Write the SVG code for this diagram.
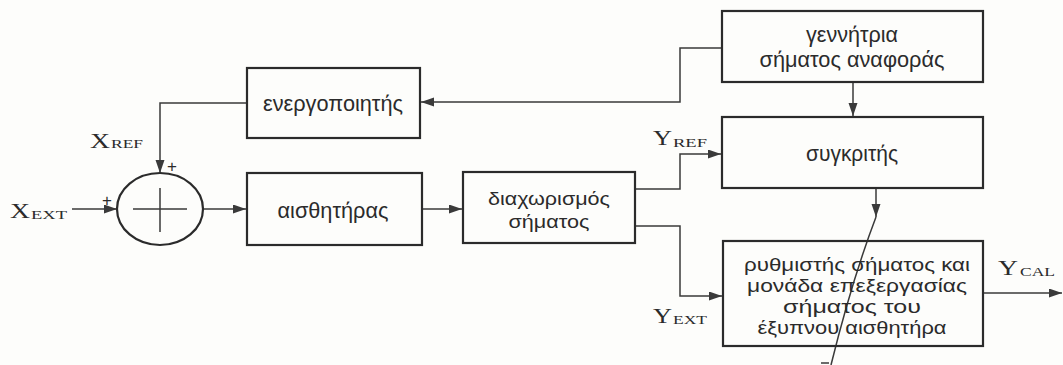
<svg xmlns="http://www.w3.org/2000/svg" width="1063" height="365" viewBox="0 0 1063 365">
<style>
.box{fill:none;stroke:#2b2b2b;stroke-width:2.2}
.ln{fill:none;stroke:#3a3a3a;stroke-width:1.5}
.t{font-family:"Liberation Sans",Arial,sans-serif;font-size:22px;fill:#2b2b2b;text-anchor:middle}
.t2{font-family:"Liberation Sans",Arial,sans-serif;font-size:19px;fill:#2b2b2b;text-anchor:middle}
.s{font-family:"Liberation Serif","Times New Roman",serif;font-size:21px;fill:#2b2b2b}
.sub{font-family:"Liberation Serif","Times New Roman",serif;font-size:12.5px;fill:#2b2b2b}
.p{font-family:"Liberation Sans",Arial,sans-serif;font-size:17px;fill:#2b2b2b;text-anchor:middle}
</style>
<defs>
<marker id="ah" markerUnits="userSpaceOnUse" markerWidth="14" markerHeight="10" refX="13" refY="4.5" orient="auto">
<path d="M0,0 L13,4.5 L0,9 z" fill="#3a3a3a"/>
</marker>
</defs>
<rect width="1063" height="365" fill="#fdfdfb"/>

<g id="connectors">
<path class="ln" d="M722,48 H680 V102 H421" marker-end="url(#ah)"/>
<path class="ln" d="M247,103 H160 V173" marker-end="url(#ah)"/>
<path class="ln" d="M72,209 H117" marker-end="url(#ah)"/>
<path class="ln" d="M203,209 H246" marker-end="url(#ah)"/>
<path class="ln" d="M422,209 H462" marker-end="url(#ah)"/>
<path class="ln" d="M635,189 H680 V154 H721" marker-end="url(#ah)"/>
<path class="ln" d="M635,226 H680 V296 H722" marker-end="url(#ah)"/>
<path class="ln" d="M853,82 V116" marker-end="url(#ah)"/>
<path class="ln" d="M876,188 V217" marker-end="url(#ah)"/>
<path class="ln" d="M983,293 H1062" marker-end="url(#ah)"/>
<path class="ln" d="M876,217 Q852,280 831,365"/>
<path class="ln" d="M821,363 H829"/>
</g>

<g id="sum">
<ellipse cx="160" cy="209" rx="43" ry="36" class="box"/>
<path class="ln" d="M133,209 H187 M160,188 V232"/>
<text class="p" x="172" y="172">+</text>
<text class="p" x="107" y="206">+</text>
</g>

<g id="xref">
<text class="s" x="90" y="148" textLength="20" lengthAdjust="spacingAndGlyphs">X</text>
<text class="sub" x="111" y="148" textLength="32" lengthAdjust="spacingAndGlyphs">REF</text>
</g>
<g id="xext">
<text class="s" x="10" y="218" textLength="20" lengthAdjust="spacingAndGlyphs">X</text>
<text class="sub" x="31" y="219" textLength="36" lengthAdjust="spacingAndGlyphs">EXT</text>
</g>
<g id="yref">
<text class="s" x="653" y="145" textLength="19" lengthAdjust="spacingAndGlyphs">Y</text>
<text class="sub" x="673" y="147" textLength="34" lengthAdjust="spacingAndGlyphs">REF</text>
</g>
<g id="yext">
<text class="s" x="653" y="323" textLength="19" lengthAdjust="spacingAndGlyphs">Y</text>
<text class="sub" x="673" y="324" textLength="34" lengthAdjust="spacingAndGlyphs">EXT</text>
</g>
<g id="ycal">
<text class="s" x="998" y="275" textLength="20" lengthAdjust="spacingAndGlyphs">Y</text>
<text class="sub" x="1020" y="276" textLength="35" lengthAdjust="spacingAndGlyphs">CAL</text>
</g>

<g id="energopoiitis">
<rect class="box" x="247" y="68" width="173" height="70"/>
<text class="t" x="333" y="111" textLength="140" lengthAdjust="spacingAndGlyphs">ενεργοποιητής</text>
</g>
<g id="aisthitiras">
<rect class="box" x="247" y="173" width="175" height="72"/>
<text class="t" x="333" y="218" textLength="111" lengthAdjust="spacingAndGlyphs">αισθητήρας</text>
</g>
<g id="diaxorismos">
<rect class="box" x="463" y="172" width="172" height="71"/>
<text class="t2" x="549" y="205" textLength="122" lengthAdjust="spacingAndGlyphs">διαχωρισμός</text>
<text class="t2" x="549" y="228" textLength="81" lengthAdjust="spacingAndGlyphs">σήματος</text>
</g>
<g id="gennitria">
<rect class="box" x="722" y="11" width="261" height="71"/>
<text class="t" x="852" y="42" textLength="92" lengthAdjust="spacingAndGlyphs">γεννήτρια</text>
<text class="t" x="852" y="67" textLength="185" lengthAdjust="spacingAndGlyphs">σήματος αναφοράς</text>
</g>
<g id="sygkritis">
<rect class="box" x="722" y="117" width="261" height="71"/>
<text class="t" x="852" y="161" textLength="92" lengthAdjust="spacingAndGlyphs">συγκριτής</text>
</g>
<g id="rythmistis">
<rect class="box" x="723" y="241" width="260" height="105"/>
<text class="t2" x="857" y="271" textLength="226" lengthAdjust="spacingAndGlyphs">ρυθμιστής σήματος και</text>
<text class="t2" x="857" y="292" textLength="220" lengthAdjust="spacingAndGlyphs">μονάδα επεξεργασίας</text>
<text class="t2" x="852" y="313" textLength="138" lengthAdjust="spacingAndGlyphs">σήματος του</text>
<text class="t2" x="852" y="334" textLength="189" lengthAdjust="spacingAndGlyphs">έξυπνου αισθητήρα</text>
</g>
</svg>
